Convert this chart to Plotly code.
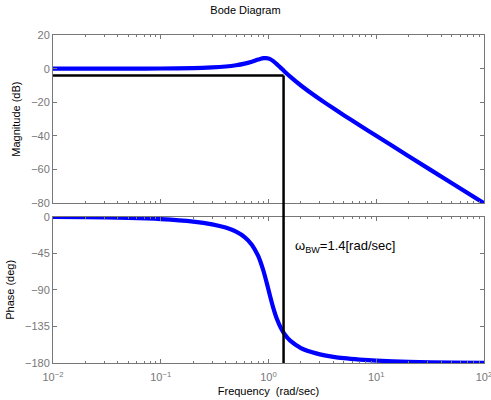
import plotly.graph_objects as go
import math

# Frequencies (rad/sec) and values
freq = [0.01, 0.02, 0.05, 0.1, 0.2, 0.3, 0.4, 0.5, 0.6, 0.7, 0.8, 0.85, 0.9, 0.95,
        1.0, 1.05, 1.1, 1.2, 1.3, 1.4, 1.6, 2.0, 2.5, 3.0, 4.0, 5.0, 7.0, 10.0,
        20.0, 50.0, 100.0]
mag_db = [0.0, 0.0, 0.02, 0.08, 0.31, 0.70, 1.27, 2.04, 3.01, 4.17, 5.38, 5.89, 6.22, 6.29,
          6.02, 5.43, 4.60, 2.57, 0.46, -1.50, -4.88, -10.0, -14.64, -18.21, -23.6, -27.65,
          -33.65, -39.92, -52.02, -67.96, -80.0]
phase_deg = [-0.29, -0.57, -1.44, -2.89, -5.95, -9.36, -13.39, -18.43, -25.11, -34.46,
             -48.0, -56.86, -67.1, -78.4, -90.0, -101.05, -110.9, -126.3, -136.7, -143.9,
             -152.85, -161.57, -166.6, -169.4, -172.4, -174.05, -175.8, -177.1, -178.56,
             -179.43, -179.71]

bw_freq = 1.38
bw_level_db = -4.0
x_tick_vals = [0.01, 0.1, 1, 10, 100]
x_tick_text = ["10<sup>\u22122</sup>", "10<sup>\u22121</sup>", "10<sup>0</sup>",
               "10<sup>1</sup>", "10<sup>2</sup>"]
mag_ticks = [20, 0, -20, -40, -60, -80]
phase_ticks = [0, -45, -90, -135, -180]

GRAY = "#777777"
FONT = "Liberation Sans, Arial, sans-serif"

top_dom = [0.487, 1.0]
bot_dom = [0.0, 0.446]
mag_range = [-80, 20]
phase_range = [-180, 0]

minor_vals = [m * 10 ** e for e in range(-2, 2) for m in range(2, 10)]

fig = go.Figure()
fig.add_trace(go.Scatter(x=[0.01, bw_freq], y=[bw_level_db, bw_level_db], mode="lines",
                         line=dict(color="black", width=2.5), xaxis="x", yaxis="y",
                         hoverinfo="skip"))
fig.add_trace(go.Scatter(x=freq, y=mag_db, mode="lines", line=dict(color="#0000ff", width=4.2,
                         shape="spline", smoothing=0.6), xaxis="x", yaxis="y"))
fig.add_trace(go.Scatter(x=freq, y=phase_deg, mode="lines", line=dict(color="#0000ff", width=4.2,
                         shape="spline", smoothing=0.6), xaxis="x2", yaxis="y2"))

# vertical bandwidth line spanning both panels
y_top_paper = top_dom[0] + (bw_level_db - mag_range[0]) / (mag_range[1] - mag_range[0]) * (top_dom[1] - top_dom[0])
fig.add_shape(type="line", xref="x2", yref="paper", x0=bw_freq, x1=bw_freq,
              y0=bot_dom[0], y1=y_top_paper, line=dict(color="black", width=2.5), layer="above")

fig.add_annotation(x=math.log10(1.68), y=-37, xref="x2", yref="y2", xanchor="left",
                   yanchor="middle", showarrow=False,
                   text="\u03c9<sub>BW</sub>=1.4[rad/sec]",
                   font=dict(size=13, color="black", family=FONT))

axis_common = dict(showline=True, linecolor=GRAY, linewidth=1, mirror="ticks",
                   ticks="inside", ticklen=4, tickcolor=GRAY, showgrid=False,
                   zeroline=False, tickfont=dict(size=11, color=GRAY, family=FONT))

xcommon = dict(axis_common, type="log", range=[-2, 2.00001], tickmode="array",
               tickvals=x_tick_vals, ticktext=x_tick_text, ticklabeloverflow="allow",
               minor=dict(tickmode="array", tickvals=minor_vals, ticks="inside",
                          ticklen=2, tickcolor=GRAY, showgrid=False))

fig.update_layout(
    width=491, height=400,
    margin=dict(l=53, r=7, t=35, b=37, autoexpand=False),
    paper_bgcolor="white", plot_bgcolor="white",
    showlegend=False,
    font=dict(family=FONT, size=11, color="black"),
    title=dict(text="Bode Diagram", x=0.5, xanchor="center", y=0.975, yanchor="middle",
               font=dict(size=11, color="black", family=FONT)),
    xaxis=dict(xcommon, anchor="y", showticklabels=False, domain=[0, 1]),
    yaxis=dict(axis_common, domain=top_dom, range=mag_range, tickmode="array",
               tickvals=mag_ticks, anchor="x",
               title=dict(text="Magnitude (dB)", standoff=8,
                          font=dict(size=11, color="black", family=FONT))),
    xaxis2=dict(xcommon, anchor="y2", matches="x", domain=[0, 1], ticklabelstandoff=4,
                title=dict(text="Frequency  (rad/sec)", standoff=5,
                           font=dict(size=11, color="black", family=FONT))),
    yaxis2=dict(axis_common, domain=bot_dom, range=phase_range, tickmode="array",
                tickvals=phase_ticks, anchor="x2",
                title=dict(text="Phase (deg)", standoff=8,
                           font=dict(size=11, color="black", family=FONT))),
)

fig.write_html("out.html", config={"displayModeBar": False},
               post_script="document.body.style.margin='0';")
